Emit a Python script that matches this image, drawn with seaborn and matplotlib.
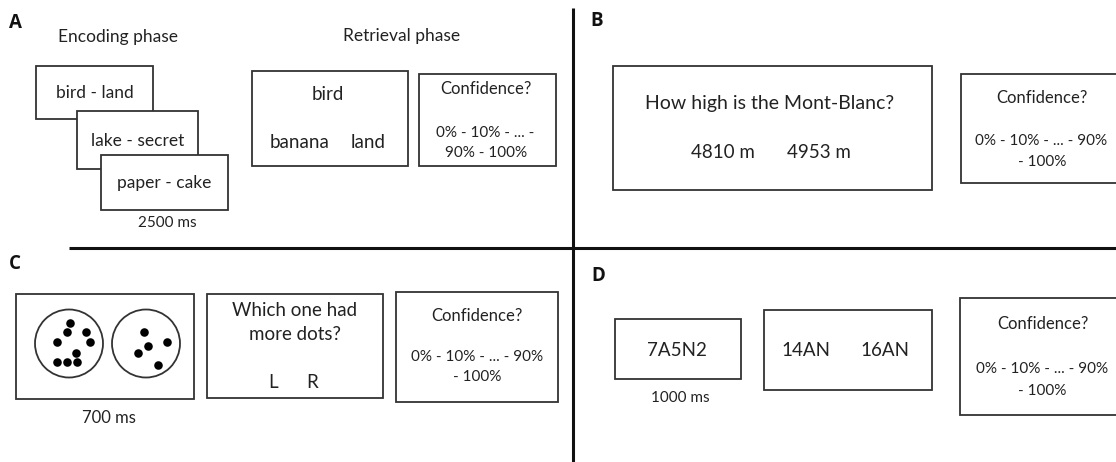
import matplotlib
matplotlib.use('Agg')
import matplotlib.pyplot as plt
import matplotlib.patches as mpatches
import seaborn as sns
import pandas as pd

sns.set_style('white')
plt.rcParams['font.family'] = ['Lato', 'DejaVu Sans']

# panel letters
panel_labels = ['A', 'B', 'C', 'D']

# texts shown in the trial screens
encoding_pairs = ['bird - land', 'lake - secret', 'paper - cake']
retrieval_cue = 'bird'
retrieval_options = ['banana', 'land']
phase_titles = ['Encoding phase', 'Retrieval phase']
conf_title = 'Confidence?'
conf_scale_a = ['0% - 10% - ... -', '90% - 100%']
conf_scale = ['0% - 10% - ... - 90%', '- 100%']
question_b = 'How high is the Mont-Blanc?'
options_b = ['4810 m', '4953 m']
question_c = ['Which one had', 'more dots?']
options_c = ['L', 'R']
digits_d = '7A5N2'
options_d = ['14AN', '16AN']
durations = ['2500 ms', '700 ms', '1000 ms']

# dot displays of panel C (left circle has 9 dots, right one 5)
left_dots_x = [70, 66.7, 85.7, 56.7, 90, 76, 56.7, 66.7, 77.3]
left_dots_y = [322.7, 332, 332, 342.3, 342.3, 352.7, 361.7, 361.7, 361.7]
right_dots_x = [144, 166.7, 147.7, 137.7, 158.3]
right_dots_y = [332, 342.3, 345.7, 352.7, 365]

ink = '#222222'
edge = '#333333'

fig = plt.figure(figsize=(11.16, 4.62), dpi=100)
ax = fig.add_axes([0, 0, 1, 1])
ax.set_xlim(0, 1116)
ax.set_ylim(462, 0)
ax.axis('off')


def box(x0, y0, x1, y1):
    ax.add_patch(mpatches.Rectangle((x0, y0), x1 - x0, y1 - y0, facecolor='white',
                                    edgecolor=edge, linewidth=1.3, zorder=2))


def txt(x, y, s, size=12.5, **kw):
    ax.text(x, y, s, ha='center', va='center', fontsize=size, color=ink, zorder=3, **kw)


# dividers
ax.plot([573, 573], [8, 462], color='#111111', lw=2.2, solid_capstyle='butt')
ax.plot([69, 1116], [248, 248], color='#111111', lw=2.2, solid_capstyle='butt')

# panel letters
for (x, y), lab in zip([(15, 23), (597, 21), (15, 264), (598, 276)], panel_labels):
    ax.text(x, y, lab, ha='center', va='center', fontsize=13.5, fontweight='bold',
            color='#111111', family=['Open Sans', 'DejaVu Sans'])

# ---- A ----
txt(118, 37, phase_titles[0], 12.5)
txt(402, 36, phase_titles[1], 12.5)
enc_boxes = [(36, 66, 153, 119), (77, 111, 198, 169), (101, 155, 228, 210)]
for (x0, y0, x1, y1), s in zip(enc_boxes, encoding_pairs):
    box(x0, y0, x1, y1)
    txt((x0 + x1) / 2, (y0 + y1) / 2 + 0.5, s, 12.5)
txt(167, 223, durations[0], 11)
box(252, 71, 408, 166)
txt(328, 94, retrieval_cue, 13.5)
txt(300, 143, retrieval_options[0], 13.5)
txt(368, 143, retrieval_options[1], 13.5)
box(419, 74, 556, 166)
txt(486, 89, conf_title, 12)
txt(485, 133, conf_scale_a[0], 11)
txt(486, 153, conf_scale_a[1], 11)

# ---- B ----
box(613, 66, 932, 190)
txt(770, 104, question_b, 14)
txt(723, 153, options_b[0], 13.5)
txt(819, 153, options_b[1], 13.5)
box(961, 74, 1125, 183)
txt(1042, 98, conf_title, 12)
txt(1041, 141, conf_scale[0], 11)
txt(1042, 162, conf_scale[1], 11)

# ---- C ----
box(16, 294, 194, 399)
for cx in (69, 146):
    ax.add_patch(mpatches.Circle((cx, 343.5), 34, facecolor='none', edgecolor=edge,
                                 linewidth=1.3, zorder=3))
dots = pd.DataFrame({'x': left_dots_x + right_dots_x, 'y': left_dots_y + right_dots_y})
sns.scatterplot(data=dots, x='x', y='y', ax=ax, color='black', s=38,
                linewidth=0, zorder=4, legend=False)
txt(109, 418, durations[1], 12)
box(207, 294, 383, 398)
txt(295, 310, question_c[0], 13.5)
txt(295, 335, question_c[1], 13.5)
txt(273, 383, options_c[0], 13.5)
txt(312, 383, options_c[1], 13.5)
box(396, 292, 558, 402)
txt(477, 316, conf_title, 12)
txt(477, 357, conf_scale[0], 11)
txt(477, 377, conf_scale[1], 11)

# ---- D ----
box(615, 319, 741, 379)
txt(677, 351, digits_d, 13.5)
txt(680, 398, durations[2], 11)
box(764, 310, 932, 390)
txt(806, 351, options_d[0], 13.5)
txt(885, 351, options_d[1], 13.5)
box(960, 298, 1125, 415)
txt(1043, 324, conf_title, 12)
txt(1042, 369, conf_scale[0], 11)
txt(1042, 391, conf_scale[1], 11)

ax.set_xlim(0, 1116)
ax.set_ylim(462, 0)
fig.savefig('out.png', dpi=100, facecolor='white')
